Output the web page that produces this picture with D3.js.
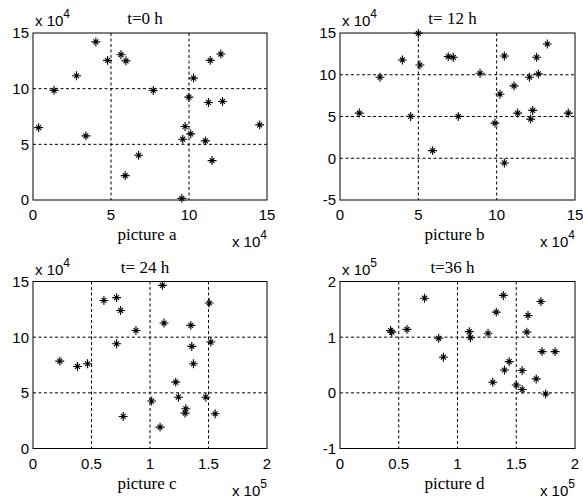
<!DOCTYPE html>
<html lang="en">
<head>
  <meta charset="UTF-8" />
  <title>Scatter t=0..36 h</title>
  <script src="https://d3js.org/d3.v7.min.js"></script>
  <style>
    body { margin: 0; background: #fff; }
    .tick { font-family: "Liberation Sans", Arial, sans-serif; font-size: 15px; fill: #000; }
    .serif { font-family: "Liberation Serif", "Times New Roman", serif; font-size: 17px; fill: #000; }
  </style>
</head>
<body>
  <svg id="chart" width="583" height="499"></svg>

  <script>
    // values (units shown by the "x 10^n" labels)
    const aX = [0.36, 1.35, 2.79, 4.03, 3.39, 4.78, 5.64, 5.96, 7.71, 6.77, 5.91, 9.54, 9.99, 10.29, 9.75, 10.11, 9.60, 11.36, 12.04, 11.25, 12.15, 11.05, 11.48, 14.53];
    const aY = [6.5, 9.85, 11.16, 14.2, 5.76, 12.54, 13.05, 12.5, 9.84, 4.02, 2.19, 0.15, 9.24, 10.95, 6.6, 5.94, 5.46, 12.54, 13.11, 8.76, 8.85, 5.31, 3.54, 6.75];

    const bX = [1.23, 2.55, 3.98, 5.0, 5.1, 4.51, 5.91, 6.91, 7.23, 7.55, 8.94, 9.89, 10.21, 10.49, 10.49, 11.11, 11.34, 12.09, 12.55, 12.66, 13.23, 12.3, 12.17, 14.57];
    const bY = [5.41, 9.7, 11.77, 14.95, 11.17, 5.01, 0.91, 12.17, 12.09, 5.01, 10.18, 4.21, 7.67, 12.25, -0.56, 8.67, 5.41, 9.7, 12.09, 10.1, 13.68, 5.73, 4.69, 5.41];

    const cX = [0.229, 0.38, 0.466, 0.606, 0.714, 0.749, 0.714, 0.88, 0.771, 1.106, 1.12, 1.014, 1.086, 1.22, 1.243, 1.306, 1.3, 1.349, 1.357, 1.371, 1.506, 1.52, 1.477, 1.557];
    const cY = [7.85, 7.37, 7.61, 13.3, 13.55, 12.4, 9.41, 10.6, 2.88, 14.65, 11.27, 4.26, 1.92, 5.96, 4.61, 3.57, 3.18, 11.06, 9.17, 7.61, 13.07, 9.56, 4.61, 3.12];

    const dX = [0.43, 0.44, 0.57, 0.72, 0.84, 0.88, 1.10, 1.11, 1.26, 1.30, 1.33, 1.39, 1.40, 1.44, 1.50, 1.55, 1.55, 1.59, 1.60, 1.67, 1.71, 1.72, 1.75, 1.83];
    const dY = [1.12, 1.09, 1.14, 1.70, 0.98, 0.64, 1.10, 0.99, 1.07, 0.19, 1.45, 1.75, 0.41, 0.56, 0.14, 0.40, 0.06, 1.09, 1.39, 0.25, 1.64, 0.74, -0.02, 0.74];

    const titles = ["t=0 h", "t= 12 h", "t= 24 h", "t=36 h"];
    const captions = ["picture a", "picture b", "picture c", "picture d"];

    const xTicksAB = [0, 5, 10, 15];
    const xTicksCD = [0, 0.5, 1, 1.5, 2];
    const yTicksA = [0, 5, 10, 15];
    const yTicksB = [-5, 0, 5, 10, 15];
    const yTicksC = [0, 5, 10, 15];
    const yTicksD = [-1, 0, 1, 2];

    const xExp = [4, 4, 5, 5];
    const yExp = [4, 4, 4, 5];

    // layout of the four axes boxes
    const boxes = [
      { left: 33, top: 33, w: 234, h: 167 },
      { left: 340, top: 33, w: 235, h: 167 },
      { left: 33, top: 281.5, w: 234, h: 167 },
      { left: 340, top: 281.5, w: 235, h: 167 }
    ];

    const panels = [
      { xs: aX, ys: aY, xt: xTicksAB, yt: yTicksA },
      { xs: bX, ys: bY, xt: xTicksAB, yt: yTicksB },
      { xs: cX, ys: cY, xt: xTicksCD, yt: yTicksC },
      { xs: dX, ys: dY, xt: xTicksCD, yt: yTicksD }
    ];

    // matlab style '*' marker: plus + shorter times
    const star = {
      draw(ctx, size) {
        const r = Math.sqrt(size);
        const q = r * 0.55;
        ctx.moveTo(-r, 0); ctx.lineTo(r, 0);
        ctx.moveTo(0, -r); ctx.lineTo(0, r);
        ctx.moveTo(-q, -q); ctx.lineTo(q, q);
        ctx.moveTo(-q, q); ctx.lineTo(q, -q);
      }
    };
    const marker = d3.symbol().type(star).size(20);

    const svg = d3.select("#chart");

    panels.forEach((p, i) => {
      const b = boxes[i];
      const x = d3.scaleLinear()
        .domain(d3.extent(p.xt))
        .range([b.left, b.left + b.w]);
      const y = d3.scaleLinear()
        .domain(d3.extent(p.yt))
        .range([b.top + b.h, b.top]);

      const g = svg.append("g");

      // dashed grid at inner ticks
      const inner = arr => arr.slice(1, -1);
      g.selectAll(".gx").data(inner(p.xt)).join("line")
        .attr("x1", d => x(d)).attr("x2", d => x(d))
        .attr("y1", b.top).attr("y2", b.top + b.h)
        .attr("stroke", "#000").attr("stroke-width", 1)
        .attr("stroke-dasharray", "3,2.5");
      g.selectAll(".gy").data(inner(p.yt)).join("line")
        .attr("x1", b.left).attr("x2", b.left + b.w)
        .attr("y1", d => y(d)).attr("y2", d => y(d))
        .attr("stroke", "#000").attr("stroke-width", 1)
        .attr("stroke-dasharray", "3,2.5");

      // box
      g.append("rect")
        .attr("x", b.left).attr("y", b.top)
        .attr("width", b.w).attr("height", b.h)
        .attr("fill", "none").attr("stroke", "#000").attr("stroke-width", 1);

      // tick labels
      g.selectAll(".xl").data(p.xt).join("text")
        .attr("class", "tick")
        .attr("x", d => x(d)).attr("y", b.top + b.h + 20)
        .attr("text-anchor", "middle")
        .text(d => d);
      g.selectAll(".yl").data(p.yt).join("text")
        .attr("class", "tick")
        .attr("x", b.left - 4).attr("y", d => y(d))
        .attr("dy", "0.36em")
        .attr("text-anchor", "end")
        .text(d => d);

      // exponent labels
      const ty = g.append("text").attr("class", "tick")
        .attr("x", b.left + 2).attr("y", b.top - 7);
      ty.append("tspan").text("x 10");
      ty.append("tspan").attr("dy", -8).attr("font-size", 12).text(yExp[i]);

      const tx = g.append("text").attr("class", "tick")
        .attr("x", b.left + b.w).attr("y", b.top + b.h + 47)
        .attr("text-anchor", "end");
      tx.append("tspan").text("x 10");
      tx.append("tspan").attr("dy", -8).attr("font-size", 12).text(xExp[i]);

      // title and caption
      g.append("text").attr("class", "serif")
        .attr("x", b.left + b.w / 2 - 5).attr("y", b.top - 9)
        .attr("text-anchor", "middle")
        .text(titles[i]);
      g.append("text").attr("class", "serif")
        .attr("x", b.left + b.w / 2 - 3).attr("y", b.top + b.h + 40)
        .attr("text-anchor", "middle")
        .text(captions[i]);

      // points
      g.selectAll(".pt").data(d3.zip(p.xs, p.ys)).join("path")
        .attr("transform", d => `translate(${x(d[0])},${y(d[1])})`)
        .attr("d", marker)
        .attr("fill", "none")
        .attr("stroke", "#000")
        .attr("stroke-width", 1.1);
    });
  </script>
</body>
</html>
